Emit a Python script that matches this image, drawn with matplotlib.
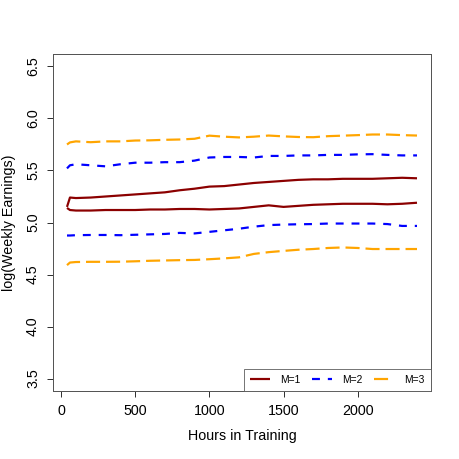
import matplotlib
matplotlib.use("Agg")
import matplotlib.pyplot as plt

hours = [40, 60, 100, 200, 300, 400, 500, 600, 700, 800, 900, 1000, 1100, 1200,
         1300, 1400, 1500, 1600, 1700, 1800, 1900, 2000, 2100, 2200, 2300, 2400]

m1_hi = [5.15, 5.24, 5.235, 5.24, 5.25, 5.26, 5.27, 5.28, 5.29, 5.31, 5.325, 5.345, 5.35,
         5.365, 5.38, 5.39, 5.40, 5.41, 5.415, 5.415, 5.42, 5.42, 5.42, 5.425, 5.43, 5.425]
m1_lo = [5.14, 5.12, 5.115, 5.115, 5.12, 5.12, 5.12, 5.125, 5.125, 5.13, 5.13, 5.125, 5.13,
         5.135, 5.15, 5.165, 5.15, 5.16, 5.17, 5.175, 5.18, 5.18, 5.18, 5.175, 5.18, 5.19]
m2_hi = [5.52, 5.55, 5.56, 5.55, 5.54, 5.56, 5.575, 5.575, 5.58, 5.58, 5.595, 5.625, 5.63,
         5.63, 5.625, 5.64, 5.64, 5.645, 5.645, 5.65, 5.65, 5.655, 5.657, 5.65, 5.645, 5.645]
m2_lo = [4.875, 4.875, 4.878, 4.88, 4.88, 4.878, 4.882, 4.886, 4.89, 4.90, 4.895, 4.91, 4.925,
         4.94, 4.96, 4.975, 4.98, 4.983, 4.985, 4.99, 4.99, 4.99, 4.99, 4.985, 4.967, 4.967]
m3_hi = [5.75, 5.77, 5.78, 5.772, 5.78, 5.78, 5.788, 5.79, 5.795, 5.798, 5.805, 5.835, 5.825,
         5.818, 5.825, 5.836, 5.828, 5.822, 5.82, 5.83, 5.835, 5.84, 5.846, 5.846, 5.84, 5.836]
m3_lo = [4.59, 4.615, 4.62, 4.622, 4.622, 4.623, 4.627, 4.632, 4.635, 4.638, 4.64, 4.647, 4.655,
         4.665, 4.698, 4.715, 4.727, 4.738, 4.745, 4.755, 4.76, 4.755, 4.745, 4.745, 4.745, 4.745]

xticks = [0, 500, 1000, 1500, 2000]
yticks = [3.5, 4.0, 4.5, 5.0, 5.5, 6.0, 6.5]
labels = ["M=1", "M=2", "M=3"]
colors = ["#8B0000", "#0000FF", "#FFA500"]

plt.rcParams['font.family'] = ['Liberation Sans', 'DejaVu Sans']

fig = plt.figure(figsize=(459 / 72, 459 / 72), dpi=72)
ax = fig.add_axes([53 / 459, 1 - 391 / 459, (431 - 53) / 459, (391 - 54) / 459])

lw = 2.2
ax.plot(hours, m1_hi, color=colors[0], lw=lw, label=labels[0], solid_capstyle='butt')
ax.plot(hours, m1_lo, color=colors[0], lw=lw, solid_capstyle='butt')
ax.plot(hours, m2_hi, color=colors[1], lw=lw, dashes=(3.6, 3.6), label=labels[1])
ax.plot(hours, m2_lo, color=colors[1], lw=lw, dashes=(3.6, 3.6))
ax.plot(hours, m3_hi, color=colors[2], lw=lw, dashes=(6.4, 2.7), label=labels[2])
ax.plot(hours, m3_lo, color=colors[2], lw=lw, dashes=(6.4, 2.7))

span_x = hours[-1] - hours[0]
ax.set_xlim(hours[0] - 0.04 * span_x, hours[-1] + 0.04 * span_x)
ax.set_ylim(3.5 - 0.12, 6.5 + 0.12)
ax.set_xticks(xticks)
ax.set_yticks(yticks)
ax.set_yticklabels([f"{v:.1f}" for v in yticks], rotation=90, va='center')
ax.tick_params(axis='both', length=6, width=1, labelsize=14.2, pad=7, color='#333333')
for s in ax.spines.values():
    s.set_color('#555555')
    s.set_linewidth(1)

ax.set_xlabel("Hours in Training", fontsize=14.2)
ax.set_ylabel("log(Weekly Earnings)", fontsize=14.2)
ax.xaxis.set_label_coords(0.5, -0.113)
ax.yaxis.set_label_coords(-0.098, 0.5)

leg = ax.legend(loc='lower right', ncol=3, fontsize=10.2, frameon=True, fancybox=False,
                borderaxespad=0, handlelength=2.0, handletextpad=1.0, columnspacing=1.1,
                borderpad=0.6, edgecolor='#555555')
leg.get_frame().set_linewidth(1)

fig.savefig("out.png", dpi=72)
